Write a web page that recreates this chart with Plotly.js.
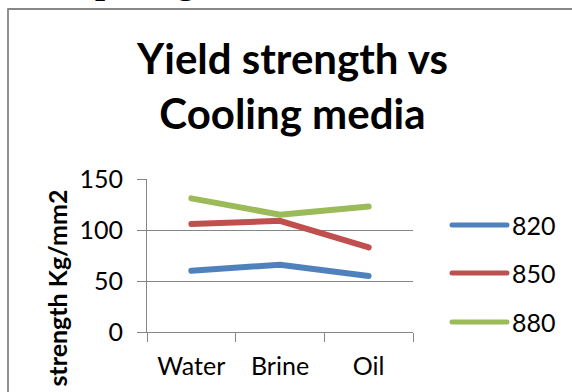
<!DOCTYPE html>
<html>
<head>
<meta charset="utf-8">
<script src="https://cdn.plot.ly/plotly-3.0.1.min.js"></script>
<style>
  html, body { margin: 0; padding: 0; background: #fff; }
  #chart { width: 572px; height: 392px; }
</style>
</head>
<body>
<div id="chart"></div>
<script>
// Cooling media on the category axis
const media = ["Water", "Brine", "Oil"];
// Series names (temperatures)
const seriesNames = ["820", "850", "880"];
// Yield strength values, Kg/mm2
const ys820 = [60, 66, 55];
const ys850 = [106, 109, 83];
const ys880 = [131, 115, 123];
const yTicks = [0, 50, 100, 150];

const chartTitle = "Yield strength vs<br>Cooling media";
const yTitle = "Yield strength Kg/mm2";
const headingFragment = "pering";

const colors = ["#4F81BD", "#C0504D", "#9BBB59"];
const FONT = "Lato, 'Open Sans', sans-serif";
const GRAY = "#868686";

// plot area in pixels
const PX0 = 147, PX1 = 413, PY0 = 332, PY1 = 179;
const px = x => (x - PX0) / (PX1 - PX0);
const py = y => (PY0 - y) / (PY0 - PY1);

const allSeries = [ys820, ys850, ys880];
const traces = allSeries.map((vals, i) => ({
  type: "scatter",
  mode: "lines",
  x: media,
  y: vals,
  name: seriesNames[i],
  line: { color: colors[i], width: 6 },
  showlegend: false,
  hoverinfo: "skip"
}));

// hand-drawn legend: colour sample + label per series
const legendY = [225, 273, 322];
const shapes = [];
const annotations = [];
seriesNames.forEach((n, i) => {
  shapes.push({
    type: "line", xref: "paper", yref: "paper",
    x0: px(452), x1: px(507), y0: py(legendY[i]), y1: py(legendY[i]),
    line: { color: colors[i], width: 5 }
  });
  annotations.push({
    xref: "paper", yref: "paper", x: px(510), y: py(legendY[i]),
    xanchor: "left", yanchor: "middle", showarrow: false,
    text: n, font: { family: FONT, size: 25, color: "#000" }
  });
});

// chart frame (top and left edges)
shapes.push({
  type: "path", xref: "paper", yref: "paper",
  path: `M ${px(8)} ${py(400)} L ${px(8)} ${py(9)} L ${px(580)} ${py(9)}`,
  line: { color: GRAY, width: 1.8 }
});

// chart title
annotations.push({
  xref: "paper", yref: "paper", x: px(292), y: py(86),
  xanchor: "center", yanchor: "middle", showarrow: false,
  text: "<b>" + chartTitle + "</b>",
  font: { family: FONT, size: 42, color: "#000" }
});

// y axis title
annotations.push({
  xref: "paper", yref: "paper", x: px(57), y: py(188),
  xanchor: "center", yanchor: "top", showarrow: false, textangle: -90,
  text: "<b>" + yTitle + "</b>",
  font: { family: FONT, size: 25, color: "#000" }
});

// heading text of the surrounding page, mostly above the top edge
annotations.push({
  xref: "paper", yref: "paper", x: px(93), y: py(3),
  xanchor: "left", yanchor: "bottom", showarrow: false,
  text: "<b>" + headingFragment + "</b>",
  font: { family: "'Liberation Serif', serif", size: 36, color: "#000" }
});

const layout = {
  width: 572, height: 392,
  margin: { l: PX0, r: 572 - PX1, t: PY1, b: 392 - PY0, pad: 0 },
  paper_bgcolor: "#fff", plot_bgcolor: "#fff",
  xaxis: {
    type: "category",
    range: [-0.5, 2.5],
    showgrid: false, zeroline: false,
    showline: true, linecolor: GRAY, linewidth: 1,
    ticks: "outside", tickson: "boundaries", ticklen: 9, tickcolor: GRAY,
    tickfont: { family: FONT, size: 25, color: "#000" },
    ticklabelstandoff: 12
  },
  yaxis: {
    range: [0, 150],
    tickvals: yTicks,
    showgrid: true, gridcolor: GRAY, gridwidth: 1,
    zeroline: false,
    showline: true, linecolor: GRAY, linewidth: 1,
    ticks: "outside", ticklen: 9, tickcolor: GRAY,
    tickfont: { family: FONT, size: 25, color: "#000" },
    ticklabelstandoff: 9
  },
  shapes: shapes,
  annotations: annotations,
  showlegend: false
};

Plotly.newPlot("chart", traces, layout, { staticPlot: true }).then(() => {
  // rounded line ends
  document.querySelectorAll(".scatterlayer .js-line, .shapelayer path").forEach(p => {
    p.style.strokeLinecap = "round";
    p.style.strokeLinejoin = "round";
  });
});
</script>
</body>
</html>
